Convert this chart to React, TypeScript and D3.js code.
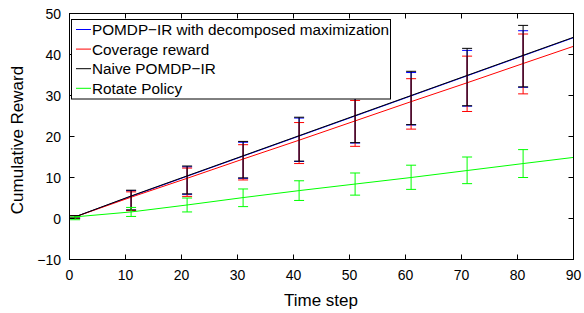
import React, { useEffect, useRef } from 'react';
import * as d3 from 'd3';

// time steps where the curves are sampled; error bars at all but the last
const steps = [1, 11, 21, 31, 41, 51, 61, 71, 81, 90];
const errSteps = [1, 11, 21, 31, 41, 51, 61, 71, 81];

const decomposedMean = [0.4, 5.4, 10.3, 15.2, 20.1, 25.0, 29.9, 34.8, 39.7, 44.1];
const decomposedLow = [0.1, 2.0, 5.9, 9.8, 13.9, 18.4, 22.8, 27.4, 32.0];
const decomposedHigh = [0.7, 6.8, 12.6, 18.6, 24.5, 31.0, 35.6, 41.0, 45.8];

const coverageMean = [0.4, 5.2, 9.8, 14.5, 19.1, 23.8, 28.5, 33.1, 37.8, 42.0];
const coverageLow = [0.1, 1.9, 5.4, 9.4, 13.4, 17.6, 21.8, 26.1, 30.4];
const coverageHigh = [0.7, 6.5, 12.3, 18.0, 23.4, 28.8, 34.1, 39.6, 45.0];

const naiveMean = [0.4, 5.5, 10.4, 15.3, 20.2, 25.1, 30.0, 34.9, 39.8, 44.2];
const naiveLow = [0.1, 2.1, 6.0, 9.9, 14.0, 18.5, 22.9, 27.5, 32.1];
const naiveHigh = [0.7, 6.9, 12.8, 18.8, 24.7, 31.5, 35.9, 41.5, 47.1];

const rotateMean = [0.4, 1.6, 3.3, 5.1, 6.8, 8.4, 10.0, 11.7, 13.4, 14.9];
const rotateLow = [-0.3, 0.5, 1.6, 2.9, 4.4, 5.7, 7.1, 8.5, 10.0];
const rotateHigh = [0.4, 2.7, 5.0, 7.2, 9.2, 11.1, 13.0, 15.0, 16.8];

const seriesNames = ['POMDP\u2212IR with decomposed maximization', 'Coverage reward', 'Naive POMDP\u2212IR', 'Rotate Policy'];
const xTicks = [0, 10, 20, 30, 40, 50, 60, 70, 80, 90];
const yTicks = [-10, 0, 10, 20, 30, 40, 50];

const App = () => {
  const svgRef = useRef(null);

  useEffect(() => {
    const svg = d3.select(svgRef.current);
    svg.selectAll('*').remove();

    const font = 'Liberation Sans, Arial, Helvetica, sans-serif';
    const left = 69.5, top = 13.5, right = 573.5, bottom = 259.5;

    const x = d3.scaleLinear().domain([0, 90]).range([left, right]);
    const y = d3.scaleLinear().domain([-10, 50]).range([bottom, top]);

    const series = [
      { name: seriesNames[0], color: '#0000ff', mean: decomposedMean, low: decomposedLow, high: decomposedHigh },
      { name: seriesNames[1], color: '#ff0000', mean: coverageMean, low: coverageLow, high: coverageHigh },
      { name: seriesNames[2], color: '#000000', mean: naiveMean, low: naiveLow, high: naiveHigh },
      { name: seriesNames[3], color: '#00ff00', mean: rotateMean, low: rotateLow, high: rotateHigh },
    ];

    svg.append('rect')
      .attr('x', 0).attr('y', 0).attr('width', 584).attr('height', 313)
      .attr('fill', '#fff');

    const line = d3.line<number>()
      .x((_, i) => x(steps[i]))
      .y(d => y(d));

    series.forEach(s => {
      const g = svg.append('g').attr('stroke', s.color).attr('stroke-width', 1).attr('fill', 'none');
      g.append('path').attr('d', line(s.mean));
      errSteps.forEach((t, i) => {
        const cx = x(t);
        g.append('line').attr('x1', cx).attr('x2', cx).attr('y1', y(s.low[i])).attr('y2', y(s.high[i]));
        [s.low[i], s.high[i]].forEach(v => {
          g.append('line').attr('x1', cx - 5).attr('x2', cx + 5).attr('y1', y(v)).attr('y2', y(v));
        });
      });
    });

    // box and ticks (inward, on all four sides)
    const axes = svg.append('g').attr('stroke', '#000').attr('stroke-width', 1);
    axes.append('rect')
      .attr('x', left).attr('y', top).attr('width', right - left).attr('height', bottom - top)
      .attr('fill', 'none');
    xTicks.forEach(t => {
      axes.append('line').attr('x1', x(t)).attr('x2', x(t)).attr('y1', bottom).attr('y2', bottom - 5);
      axes.append('line').attr('x1', x(t)).attr('x2', x(t)).attr('y1', top).attr('y2', top + 5);
    });
    yTicks.forEach(t => {
      axes.append('line').attr('x1', left).attr('x2', left + 5).attr('y1', y(t)).attr('y2', y(t));
      axes.append('line').attr('x1', right).attr('x2', right - 5).attr('y1', y(t)).attr('y2', y(t));
    });

    svg.append('g').selectAll('text').data(xTicks).enter().append('text')
      .attr('x', d => x(d)).attr('y', 279.5)
      .attr('text-anchor', 'middle')
      .attr('font-family', font).attr('font-size', 14)
      .text(d => String(d));

    svg.append('g').selectAll('text').data(yTicks).enter().append('text')
      .attr('x', 61).attr('y', d => y(d) + 5)
      .attr('text-anchor', 'end')
      .attr('font-family', font).attr('font-size', 14)
      .text(d => (d < 0 ? '\u2212' + Math.abs(d) : String(d)));

    svg.append('text')
      .attr('x', 321).attr('y', 306)
      .attr('text-anchor', 'middle')
      .attr('font-family', font).attr('font-size', 17)
      .text('Time step');

    svg.append('text')
      .attr('transform', 'translate(23,140) rotate(-90)')
      .attr('text-anchor', 'middle')
      .attr('font-family', font).attr('font-size', 17)
      .text('Cumulative Reward');

    // legend
    const legend = svg.append('g');
    legend.append('rect')
      .attr('x', 71.5).attr('y', 19.5).attr('width', 319).attr('height', 79.5)
      .attr('fill', '#fff').attr('stroke', '#000').attr('stroke-width', 1);
    series.forEach((s, i) => {
      const ly = 29.5 + i * 19.6;
      legend.append('line')
        .attr('x1', 76).attr('x2', 91).attr('y1', ly).attr('y2', ly)
        .attr('stroke', s.color).attr('stroke-width', 1);
      legend.append('text')
        .attr('x', 92).attr('y', ly + 5.5)
        .attr('font-family', font).attr('font-size', 15.3)
        .text(s.name);
    });
  }, []);

  return <svg ref={svgRef} width={584} height={313} style={{ position: 'absolute', left: 0, top: 0 }}></svg>;
};

export default App;
